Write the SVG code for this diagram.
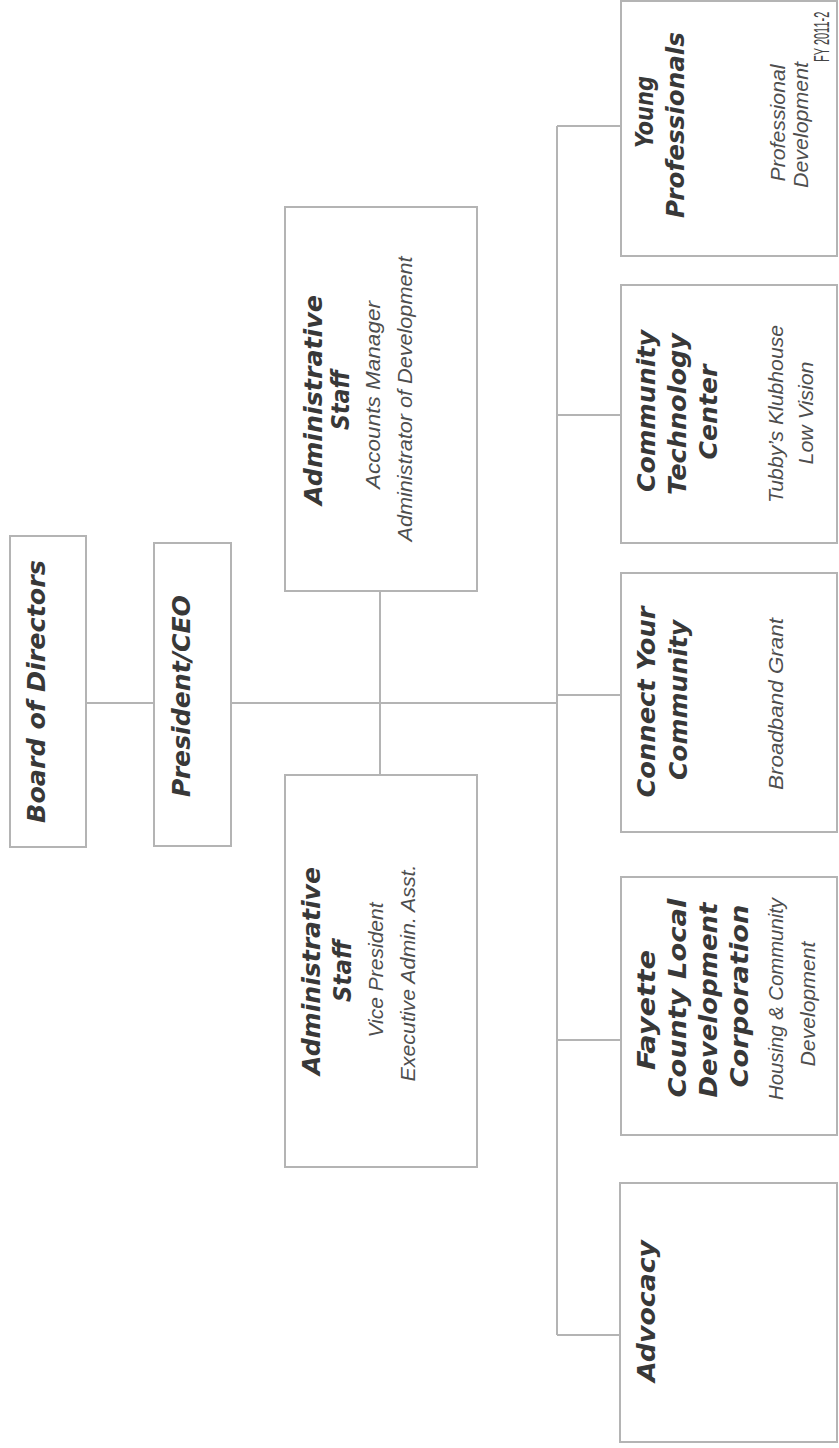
<svg xmlns="http://www.w3.org/2000/svg" width="839" height="1448" viewBox="0 0 839 1448">
<style>
.box{fill:#fff;stroke:#b4b4b4;stroke-width:2}
.c{stroke:#b4b4b4;stroke-width:2;fill:none}
.t{font-family:"DejaVu Sans","Liberation Sans",sans-serif;font-weight:bold;font-style:italic;font-size:25.5px;fill:#383838;text-anchor:middle}
.s{font-family:"Liberation Sans",Arial,sans-serif;font-style:italic;font-size:21px;fill:#4e4e4e;text-anchor:middle}
.fy{font-family:"Liberation Sans",Arial,sans-serif;font-size:22px;fill:#444}
</style>
<rect width="839" height="1448" fill="#fff"/>
<g id="connectors">
<path class="c" d="M86 703H154M231 703H557M380 591V775M557 126V1335M557 126H621M557 415H621M557 695H621M557 1040H621M557 1335H620"/>
</g>
<g id="board">
<rect class="box" x="10" y="536" width="76" height="311"/>
<text class="t" transform="translate(45,691.5) rotate(-90)" textLength="263" lengthAdjust="spacingAndGlyphs">Board of Directors</text>
</g>
<g id="president">
<rect class="box" x="154" y="543" width="77" height="303"/>
<text class="t" transform="translate(190,696) rotate(-90)" textLength="202" lengthAdjust="spacingAndGlyphs">President/CEO</text>
</g>
<g id="admin-top">
<rect class="box" x="285" y="207" width="192" height="384"/>
<text class="t" transform="translate(322,400) rotate(-90)" textLength="210" lengthAdjust="spacingAndGlyphs">Administrative</text>
<text class="t" transform="translate(349,400) rotate(-90)" textLength="60" lengthAdjust="spacingAndGlyphs">Staff</text>
<text class="s" transform="translate(380,395) rotate(-90)" textLength="188" lengthAdjust="spacingAndGlyphs">Accounts Manager</text>
<text class="s" transform="translate(412,399) rotate(-90)" textLength="285" lengthAdjust="spacingAndGlyphs">Administrator of Development</text>
</g>
<g id="admin-bottom">
<rect class="box" x="285" y="775" width="192" height="392"/>
<text class="t" transform="translate(320,971) rotate(-90)" textLength="208" lengthAdjust="spacingAndGlyphs">Administrative</text>
<text class="t" transform="translate(351,971) rotate(-90)" textLength="62" lengthAdjust="spacingAndGlyphs">Staff</text>
<text class="s" transform="translate(383,970) rotate(-90)" textLength="135" lengthAdjust="spacingAndGlyphs">Vice President</text>
<text class="s" transform="translate(415,973) rotate(-90)" textLength="217" lengthAdjust="spacingAndGlyphs">Executive Admin. Asst.</text>
</g>
<g id="young-professionals">
<rect class="box" x="621" y="1" width="216" height="255"/>
<text class="t" transform="translate(653,112) rotate(-90)" textLength="72" lengthAdjust="spacingAndGlyphs">Young</text>
<text class="t" transform="translate(684,125) rotate(-90)" textLength="186" lengthAdjust="spacingAndGlyphs">Professionals</text>
<text class="s" transform="translate(785,123) rotate(-90)" textLength="117" lengthAdjust="spacingAndGlyphs">Professional</text>
<text class="s" transform="translate(808,125) rotate(-90)" textLength="126" lengthAdjust="spacingAndGlyphs">Development</text>
</g>
<g id="community-technology-center">
<rect class="box" x="621" y="285" width="216" height="258"/>
<text class="t" transform="translate(655,411) rotate(-90)" textLength="162" lengthAdjust="spacingAndGlyphs">Community</text>
<text class="t" transform="translate(686,414) rotate(-90)" textLength="162" lengthAdjust="spacingAndGlyphs">Technology</text>
<text class="t" transform="translate(717,412) rotate(-90)" textLength="95" lengthAdjust="spacingAndGlyphs">Center</text>
<text class="s" transform="translate(783,414) rotate(-90)" textLength="178" lengthAdjust="spacingAndGlyphs">Tubby’s Klubhouse</text>
<text class="s" transform="translate(813,413) rotate(-90)" textLength="103" lengthAdjust="spacingAndGlyphs">Low Vision</text>
</g>
<g id="connect-your-community">
<rect class="box" x="621" y="573" width="216" height="259"/>
<text class="t" transform="translate(655,702) rotate(-90)" textLength="191" lengthAdjust="spacingAndGlyphs">Connect Your</text>
<text class="t" transform="translate(687,700) rotate(-90)" textLength="160" lengthAdjust="spacingAndGlyphs">Community</text>
<text class="s" transform="translate(783,704) rotate(-90)" textLength="172" lengthAdjust="spacingAndGlyphs">Broadband Grant</text>
</g>
<g id="fayette">
<rect class="box" x="621" y="877" width="216" height="258"/>
<text class="t" transform="translate(655,1010) rotate(-90)" textLength="120" lengthAdjust="spacingAndGlyphs">Fayette</text>
<text class="t" transform="translate(686,998) rotate(-90)" textLength="199" lengthAdjust="spacingAndGlyphs">County Local</text>
<text class="t" transform="translate(717,1000) rotate(-90)" textLength="195" lengthAdjust="spacingAndGlyphs">Development</text>
<text class="t" transform="translate(748,996) rotate(-90)" textLength="183" lengthAdjust="spacingAndGlyphs">Corporation</text>
<text class="s" transform="translate(783,999) rotate(-90)" textLength="202" lengthAdjust="spacingAndGlyphs">Housing &amp; Community</text>
<text class="s" transform="translate(815,1004) rotate(-90)" textLength="125" lengthAdjust="spacingAndGlyphs">Development</text>
</g>
<g id="advocacy">
<rect class="box" x="620" y="1183" width="217" height="259"/>
<text class="t" transform="translate(655,1311) rotate(-90)" textLength="142" lengthAdjust="spacingAndGlyphs">Advocacy</text>
</g>
<g id="title">
<text class="fy" transform="translate(829,62) rotate(-90) scale(0.5,1)">FY 2011-2</text>
</g>
</svg>
